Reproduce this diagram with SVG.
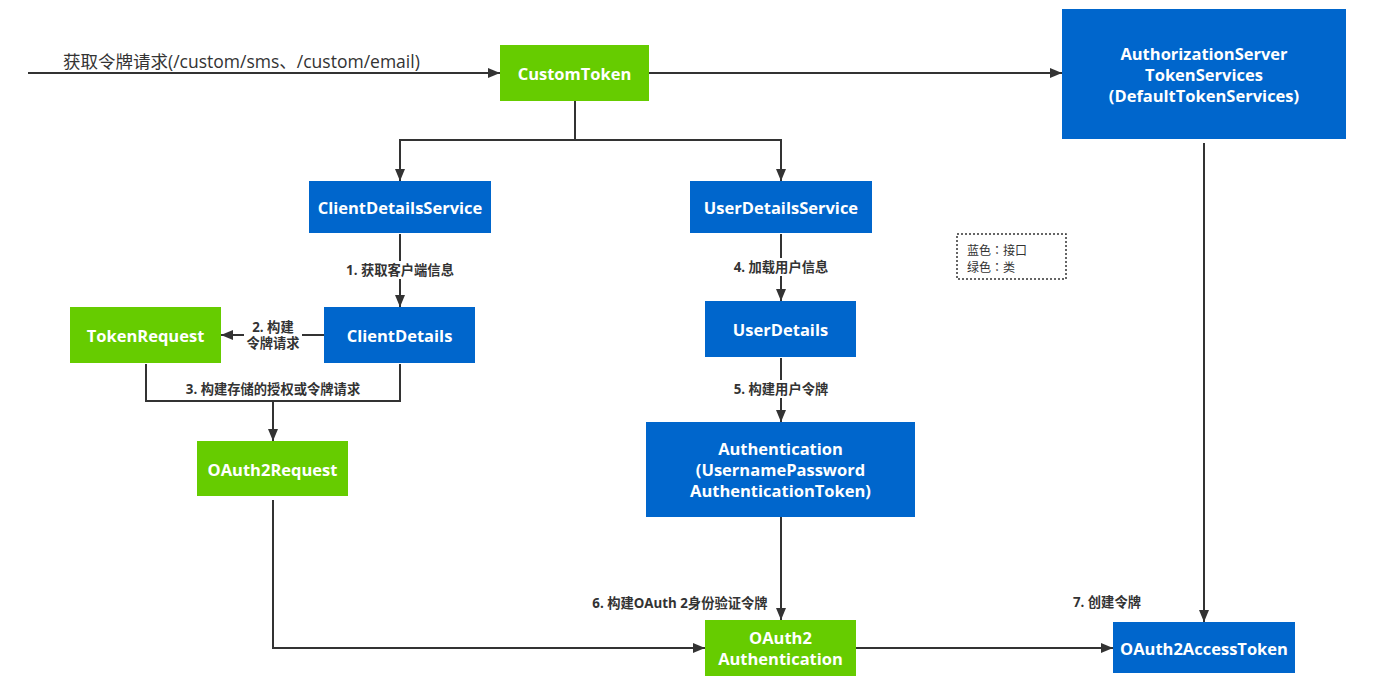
<svg xmlns="http://www.w3.org/2000/svg" width="1384" height="688" viewBox="0 0 1384 688">
<style>
.blue{fill:#0066CC}
.green{fill:#66CC00}
.nt{font-family:"Open Sans","Noto Sans CJK SC",sans-serif;font-weight:bold;font-size:16.5px;fill:#fff;text-anchor:middle;dominant-baseline:central}
.lb{font-family:"Open Sans","Noto Sans CJK SC",sans-serif;font-weight:bold;font-size:13.3px;fill:#333;text-anchor:middle;dominant-baseline:central}
.ln{fill:none;stroke:#333;stroke-width:2}
.bg{fill:#fff}
.lg{font-family:"Noto Sans CJK TC",sans-serif;font-size:12px;fill:#333;dominant-baseline:central}
</style>
<defs>
<marker id="ah" markerWidth="12" markerHeight="10" refX="12" refY="5" orient="auto" markerUnits="userSpaceOnUse">
<path d="M0,0 L12,5 L0,10 z" fill="#333"/>
</marker>
</defs>
<rect width="1384" height="688" fill="#fff"/>
<g id="connectors">
<path class="ln" d="M28,73 H500" marker-end="url(#ah)"/>
<text x="63" y="61" style="font-family:'Open Sans','Noto Sans CJK SC',sans-serif;font-size:17.5px;fill:#333;dominant-baseline:central">获取令牌请求(/custom/sms、/custom/email)</text>
<path class="ln" d="M649,73 H1062" marker-end="url(#ah)"/>
<path class="ln" d="M575,101 V140 H400 V181" marker-end="url(#ah)"/>
<path class="ln" d="M575,140 H781 V181" marker-end="url(#ah)"/>
<path class="ln" d="M400,234 V307" marker-end="url(#ah)"/>
<rect class="bg" x="336" y="261" width="128" height="18"/>
<text class="lb" x="400" y="270">1. 获取客户端信息</text>
<path class="ln" d="M324,335 H221" marker-end="url(#ah)"/>
<rect class="bg" x="244" y="318" width="58" height="34"/>
<text class="lb" x="273" y="327">2. 构建</text>
<text class="lb" x="273" y="343">令牌请求</text>
<path class="ln" d="M146,364 V401 H400 V364"/>
<path class="ln" d="M273,401 V441" marker-end="url(#ah)"/>
<text class="lb" x="273" y="389">3. 构建存储的授权或令牌请求</text>
<path class="ln" d="M781,234 V301" marker-end="url(#ah)"/>
<rect class="bg" x="724" y="258" width="114" height="18"/>
<text class="lb" x="781" y="267">4. 加载用户信息</text>
<path class="ln" d="M781,358 V422" marker-end="url(#ah)"/>
<rect class="bg" x="736" y="380" width="90" height="18"/>
<text class="lb" x="781" y="389">5. 构建用户令牌</text>
<path class="ln" d="M273,500 V648 H705" marker-end="url(#ah)"/>
<path class="ln" d="M781,517 V620" marker-end="url(#ah)"/>
<text class="lb" x="680" y="603">6. 构建OAuth 2身份验证令牌</text>
<path class="ln" d="M856,648 H1113" marker-end="url(#ah)"/>
<path class="ln" d="M1204,143 V622" marker-end="url(#ah)"/>
<text class="lb" x="1107" y="602">7. 创建令牌</text>
</g>
<g id="CustomToken"><rect class="green" x="500" y="45" width="149" height="56"/><text class="nt" x="574.5" y="73">CustomToken</text></g>
<g id="AuthorizationServerTokenServices"><rect class="blue" x="1062" y="9" width="284" height="130"/>
<text class="nt" x="1204" y="53">AuthorizationServer</text>
<text class="nt" x="1204" y="74">TokenServices</text>
<text class="nt" x="1204" y="95">(DefaultTokenServices)</text></g>
<g id="ClientDetailsService"><rect class="blue" x="309" y="181" width="182" height="52"/><text class="nt" x="400" y="207">ClientDetailsService</text></g>
<g id="UserDetailsService"><rect class="blue" x="690" y="181" width="182" height="52"/><text class="nt" x="781" y="207">UserDetailsService</text></g>
<g id="TokenRequest"><rect class="green" x="70" y="307" width="151" height="56"/><text class="nt" x="145.5" y="335">TokenRequest</text></g>
<g id="ClientDetails"><rect class="blue" x="324" y="307" width="151" height="56"/><text class="nt" x="399.5" y="335">ClientDetails</text></g>
<g id="UserDetails"><rect class="blue" x="705" y="301" width="151" height="56"/><text class="nt" x="780.5" y="329">UserDetails</text></g>
<g id="OAuth2Request"><rect class="green" x="197" y="441" width="151" height="55"/><text class="nt" x="272.5" y="469">OAuth2Request</text></g>
<g id="Authentication"><rect class="blue" x="646" y="422" width="269" height="95"/>
<text class="nt" x="780.5" y="448">Authentication</text>
<text class="nt" x="780.5" y="469">(UsernamePassword</text>
<text class="nt" x="780.5" y="490">AuthenticationToken)</text></g>
<g id="OAuth2Authentication"><rect class="green" x="705" y="620" width="151" height="56"/>
<text class="nt" x="780.5" y="637">OAuth2</text>
<text class="nt" x="780.5" y="658">Authentication</text></g>
<g id="OAuth2AccessToken"><rect class="blue" x="1113" y="622" width="182" height="51"/><text class="nt" x="1204" y="648">OAuth2AccessToken</text></g>
<g id="legend"><rect x="957" y="234" width="109" height="45" fill="none" stroke="#333" stroke-width="1.5" stroke-dasharray="2,2"/>
<text class="lg" x="967" y="249">蓝色：接口</text>
<text class="lg" x="967" y="266">绿色：类</text></g>
</svg>
